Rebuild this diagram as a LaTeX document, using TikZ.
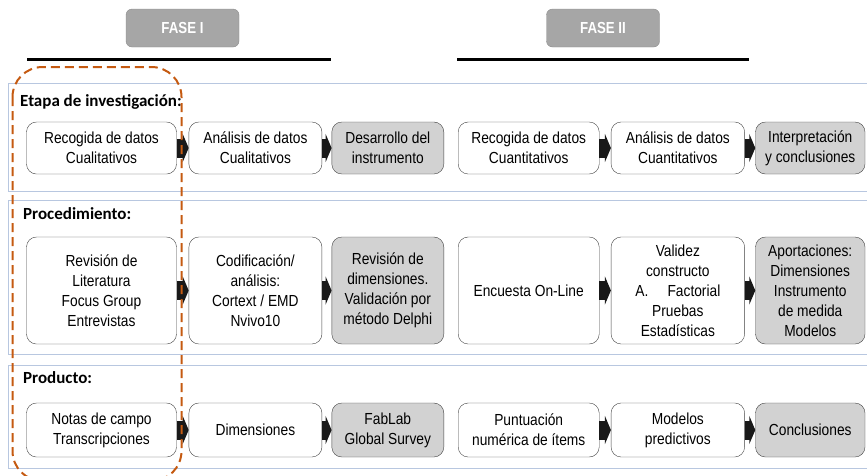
\documentclass[tikz,border=0pt]{standalone}
\usepackage{fontspec}
\setmainfont{Liberation Sans}[FakeStretch=0.86]
\newfontfamily\fasefont{Liberation Sans}[FakeStretch=0.83]
\newfontfamily\headfont{Carlito}
\usepackage{tikz}
\usetikzlibrary{positioning,arrows.meta}

\definecolor{fasefill}{RGB}{166,166,166}
\definecolor{faseedge}{RGB}{140,140,140}
\definecolor{donefill}{RGB}{210,210,210}
\definecolor{panelblue}{RGB}{184,199,224}
\definecolor{markorange}{RGB}{197,90,17}

\begin{document}
\begin{tikzpicture}[x=1pt, y=-1pt, node distance=12pt,
    box/.style = {draw=black!75, rounded corners=10pt, align=center, inner sep=2pt,
                  font=\fontsize{16}{20}\selectfont},
    done/.style = {box, fill=donefill},
    fase/.style = {draw=faseedge, fill=fasefill, rounded corners=6pt, text=white,
                   minimum width=113pt, minimum height=38pt, font=\fasefont\fontsize{16}{17}\selectfont\bfseries},
    head/.style = {anchor=base west, inner sep=0pt, font=\headfont\fontsize{17}{20}\selectfont\bfseries},
    panel/.style = {draw=panelblue, line width=1pt},
    arr/.style = {-{Triangle[width=28pt,length=6pt]}, line width=19pt, black!90},
    rA/.style = {minimum height=52pt}, rB/.style = {minimum height=107pt}, rC/.style = {minimum height=54pt},
    cA/.style = {minimum width=150pt}, cB/.style = {minimum width=133pt}, cC/.style = {minimum width=112pt},
    cD/.style = {minimum width=141pt}, cE/.style = {minimum width=133.5pt}, cF/.style = {minimum width=109.5pt}]
    \clip (0,0) rectangle (867,475);

    % fases
    \node[fase] (f1) at (182.5,28) {FASE I};
    \node[fase] (f2) at (603,28) {FASE II};
    \draw[line width=3pt] (27,59) -- (331,59);
    \draw[line width=3pt] (457,59) -- (749,59);

    % paneles
    \draw[panel] (868,83) -- (8,83) -- (8,191) -- (868,191);
    \draw[panel] (868,200) -- (8,200) -- (8,354) -- (868,354);
    \draw[panel] (868,365) -- (8,365) -- (8,468) -- (868,468);
    \node[head] (h1) at (20,106) {Etapa de investigación:};
    \node[head] (h2) at (23,219) {Procedimiento:};
    \node[head] (h3) at (23,383) {Producto:};

    % etapa de investigacion
    \node[box, rA, cA] (a1) at (101.5,148) {Recogida de datos\\Cualitativos};
    \node[box, rA, cB] (a2) [right=12pt of a1] {Análisis de datos\\Cualitativos};
    \node[done, rA, cC] (a3) [right=9.5pt of a2] {Desarrollo del\\instrumento};
    \node[box, rA, cD] (a4) [right=14pt of a3] {Recogida de datos\\Cuantitativos};
    \node[box, rA, cE] (a5) [right=11.5pt of a4] {Análisis de datos\\Cuantitativos};
    \node[done, rA, cF] (a6) [right=10.5pt of a5] {Interpretación\\y conclusiones};

    % procedimiento
    \node[box, rB, cA] (b1) at (101.5,290.5) {Revisión de\\Literatura\\Focus Group\\Entrevistas};
    \node[box, rB, cB] (b2) [right=12pt of b1] {Codificación/\\análisis:\\Cortext / EMD\\Nvivo10};
    \node[done, rB, cC] (b3) [right=9.5pt of b2] {Revisión de\\dimensiones.\\Validación por\\método Delphi};
    \node[box, rB, cD] (b4) [right=14pt of b3] {Encuesta On-Line};
    \node[box, rB, cE] (b5) [right=11.5pt of b4] {Validez\\constructo\\A.\hspace{1.2em}Factorial\\Pruebas\\Estadísticas};
    \node[done, rB, cF] (b6) [right=10.5pt of b5] {Aportaciones:\\Dimensiones\\Instrumento\\de medida\\Modelos};

    % producto
    \node[box, rC, cA] (c1) at (101.5,430) {Notas de campo\\Transcripciones};
    \node[box, rC, cB] (c2) [right=12pt of c1] {Dimensiones};
    \node[done, rC, cC] (c3) [right=9.5pt of c2] {FabLab\\Global Survey};
    \node[box, rC, cD] (c4) [right=14pt of c3] {Puntuación\\numérica de ítems};
    \node[box, rC, cE] (c5) [right=11.5pt of c4] {Modelos\\predictivos};
    \node[done, rC, cF] (c6) [right=10.5pt of c5] {Conclusiones};

    \foreach \r in {a,b,c} {
        \draw[arr] (\r1) -- (\r2);
        \draw[arr] (\r2) -- (\r3);
        \draw[arr] (\r4) -- (\r5);
        \draw[arr] (\r5) -- (\r6);
    }

    % fase I destacada
    \draw[markorange, line width=2pt, dash pattern=on 9pt off 5pt, rounded corners=30pt]
        (12.5,67) rectangle (181.5,481);
\end{tikzpicture}
\end{document}
